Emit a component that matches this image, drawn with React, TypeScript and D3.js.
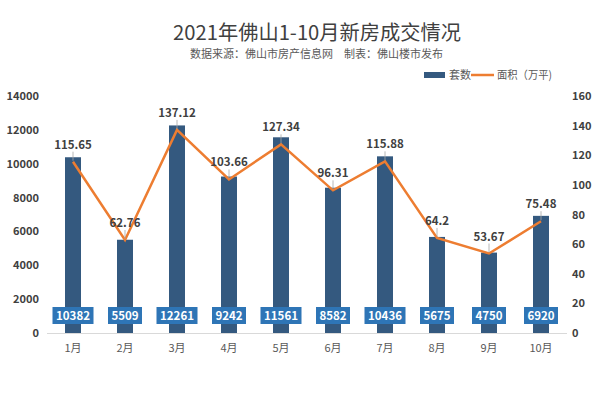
import * as d3 from "d3";

const months = ["1月", "2月", "3月", "4月", "5月", "6月", "7月", "8月", "9月", "10月"];
const units = [10382, 5509, 12261, 9242, 11561, 8582, 10436, 5675, 4750, 6920];
const area = [115.65, 62.76, 137.12, 103.66, 127.34, 96.31, 115.88, 64.2, 53.67, 75.48];
const leftTicks = [0, 2000, 4000, 6000, 8000, 10000, 12000, 14000];
const rightTicks = [0, 20, 40, 60, 80, 100, 120, 140, 160];

const W = 600;
const H = 397;
const BAR = "#34597f";
const LINE = "#ed7d31";
const BOX = "#2e75b6";
const FONT = "'Microsoft YaHei', 'Noto Sans CJK SC', 'Noto Sans', sans-serif";

export default function App() {
  const x = d3.scaleBand<string>().domain(months).range([47, 567]);
  const yL = d3.scaleLinear().domain([0, 14000]).range([333, 96]);
  const yR = d3.scaleLinear().domain([0, 160]).range([333, 96]);
  const cx = (m: string) => (x(m) ?? 0) + x.bandwidth() / 2;
  const bw = 16;

  const line = d3
    .line<number>()
    .x((_, i) => cx(months[i]))
    .y((d) => yR(d));

  return (
    <svg
      width={W}
      height={H}
      style={{ position: "absolute", left: 0, top: 0, background: "#fff", fontFamily: FONT }}
    >
      <rect x={0} y={0} width={W} height={H} fill="#fff" />
      {/* Title */}
      <text
        x={317}
        y={40}
        textAnchor="middle"
        fontSize={20}
        fill="#404040"
        textLength={288}
        lengthAdjust="spacingAndGlyphs"
      >
        2021年佛山1-10月新房成交情况
      </text>
      <text
        x={316.5}
        y={58}
        textAnchor="middle"
        fontSize={11}
        fill="#595959"
        textLength={253}
        lengthAdjust="spacingAndGlyphs"
      >
        数据来源：佛山市房产信息网　制表：佛山楼市发布
      </text>

      {/* Legend */}
      <rect x={424} y={72} width={21} height={6} fill={BAR} />
      <text x={449} y={79} fontSize={11} fill="#595959">套数</text>
      <line x1={471} x2={494} y1={75} y2={75} stroke={LINE} strokeWidth={2.5} />
      <text
        x={497}
        y={79}
        fontSize={11}
        fill="#595959"
        textLength={55}
        lengthAdjust="spacingAndGlyphs"
      >
        面积（万平)
      </text>

      {/* Left axis */}
      {leftTicks.map((t) => (
        <text
          key={t}
          x={39}
          y={yL(t) + 4}
          textAnchor="end"
          fontSize={11}
          fontWeight="bold"
          fill="#404040"
        >
          {t}
        </text>
      ))}
      {/* Right axis */}
      {rightTicks.map((t) => (
        <text key={t} x={572} y={yR(t) + 4} fontSize={11} fontWeight="bold" fill="#404040">
          {t}
        </text>
      ))}

      {/* Bars */}
      {months.map((m, i) => (
        <rect
          key={m}
          x={cx(m) - bw / 2}
          y={yL(units[i])}
          width={bw}
          height={yL(0) - yL(units[i])}
          fill={BAR}
        />
      ))}

      {/* Baseline */}
      <line x1={47} x2={567} y1={333.5} y2={333.5} stroke="#d9d9d9" strokeWidth={1} />

      {/* Month labels */}
      {months.map((m) => (
        <text key={m} x={cx(m)} y={352} textAnchor="middle" fontSize={11} fill="#595959">
          {m}
        </text>
      ))}

      {/* Line */}
      <path d={line(area) ?? ""} fill="none" stroke={LINE} strokeWidth={2.5} />

      {/* Line labels with short leader lines */}
      {months.map((m, i) => (
        <g key={m}>
          <line
            x1={cx(m)}
            x2={cx(m)}
            y1={yR(area[i]) - 10}
            y2={yR(area[i]) - 1}
            stroke="#a6a6a6"
            strokeWidth={0.8}
          />
          <text
            x={cx(m)}
            y={yR(area[i]) - 13}
            textAnchor="middle"
            fontSize={11.5}
            fontWeight="bold"
            fill="#404040"
          >
            {area[i]}
          </text>
        </g>
      ))}

      {/* Bar value boxes */}
      {months.map((m, i) => {
        const label = String(units[i]);
        const w = label.length * 7 + 6;
        return (
          <g key={m}>
            <rect x={cx(m) - w / 2} y={307} width={w} height={17} fill={BOX} />
            <text
              x={cx(m)}
              y={320}
              textAnchor="middle"
              fontSize={11.5}
              fontWeight="bold"
              fill="#fff"
            >
              {label}
            </text>
          </g>
        );
      })}
    </svg>
  );
}
